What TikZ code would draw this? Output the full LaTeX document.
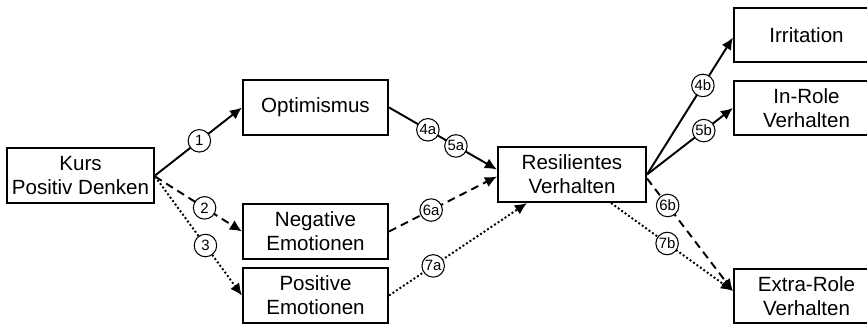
\documentclass[tikz,border=0pt]{standalone}
\usepackage{fontspec}
\setmainfont{Liberation Sans}
\usetikzlibrary{arrows.meta}

\tikzset{
  box/.style={draw,line width=1.2pt,minimum height=1.1cm,align=center,inner sep=0pt,
    font=\fontsize{11.7}{13.6}\selectfont},
  num/.style={circle,draw,solid,fill=white,line width=0.6pt,minimum size=0.45cm,inner sep=0pt,
    font=\fontsize{8.5}{9}\selectfont},
  link/.style={line width=1.1pt,-{Latex[length=2.4mm,width=2.2mm]}},
  dashline/.style={link,dash pattern=on 4.5pt off 3pt},
  dotline/.style={link,dash pattern=on 1.1pt off 1.3pt}
}

\begin{document}
\begin{tikzpicture}
\useasboundingbox (0,0) rectangle (17.34,6.56);
\clip (0,0) rectangle (17.34,6.56);

\node[box,minimum width=2.94cm] (kurs) at (1.61,3.05) {Kurs\\Positiv Denken};

\node[box,minimum width=2.9cm] (opt) at (6.31,4.41) {Optimismus};
\node[box,minimum width=2.9cm] (neg) at (6.31,1.93) {Negative\\Emotionen};
\node[box,minimum width=2.9cm] (pos) at (6.31,0.65) {Positive\\Emotionen};

\node[box,minimum width=2.96cm] (res) at (11.44,3.07) {Resilientes\\Verhalten};

\node[box,minimum width=2.9cm,minimum height=1.08cm] (irr) at (16.13,5.86) {Irritation};
\node[box,minimum width=2.9cm,minimum height=1.08cm] (inrole) at (16.13,4.40) {In-Role\\Verhalten};
\node[box,minimum width=2.9cm,minimum height=1.08cm] (extra) at (16.13,0.64) {Extra-Role\\Verhalten};

\draw[link] (kurs.east) -- (opt.west) node[num,pos=.51] (c1) {1};
\draw[dashline] ([yshift=-0.02cm]kurs.east) -- (neg.west) node[num,pos=.57] (c2) {2};
\draw[dotline] ([yshift=-0.02cm]kurs.east) -- (pos.west) node[num,pos=.58] (c3) {3};

\draw[link] (opt.east) -- ([yshift=0.1cm]res.west)
  node[num,pos=.36] (c4a) {4a} node[num,pos=.62] (c5a) {5a};
\draw[dashline] (neg.east) -- ([yshift=-0.04cm]res.west) node[num,pos=.39] (c6a) {6a};
\draw[dotline] (pos.east) -- ([xshift=0.6cm]res.south west) node[num,pos=.32] (c7a) {7a};

\draw[link] (res.east) -- ([yshift=-0.05cm]irr.west) node[num,pos=.65] (c4b) {4b};
\draw[link] (res.east) -- (inrole.west) node[num,pos=.66] (c5b) {5b};
\draw[dashline] ([yshift=-0.08cm]res.east) -- ([yshift=0.1cm]extra.west) node[num,pos=.24] (c6b) {6b};
\draw[dotline] ([xshift=-0.72cm]res.south east) -- ([yshift=0.1cm]extra.west) node[num,pos=.46] (c7b) {7b};

\end{tikzpicture}
\end{document}
